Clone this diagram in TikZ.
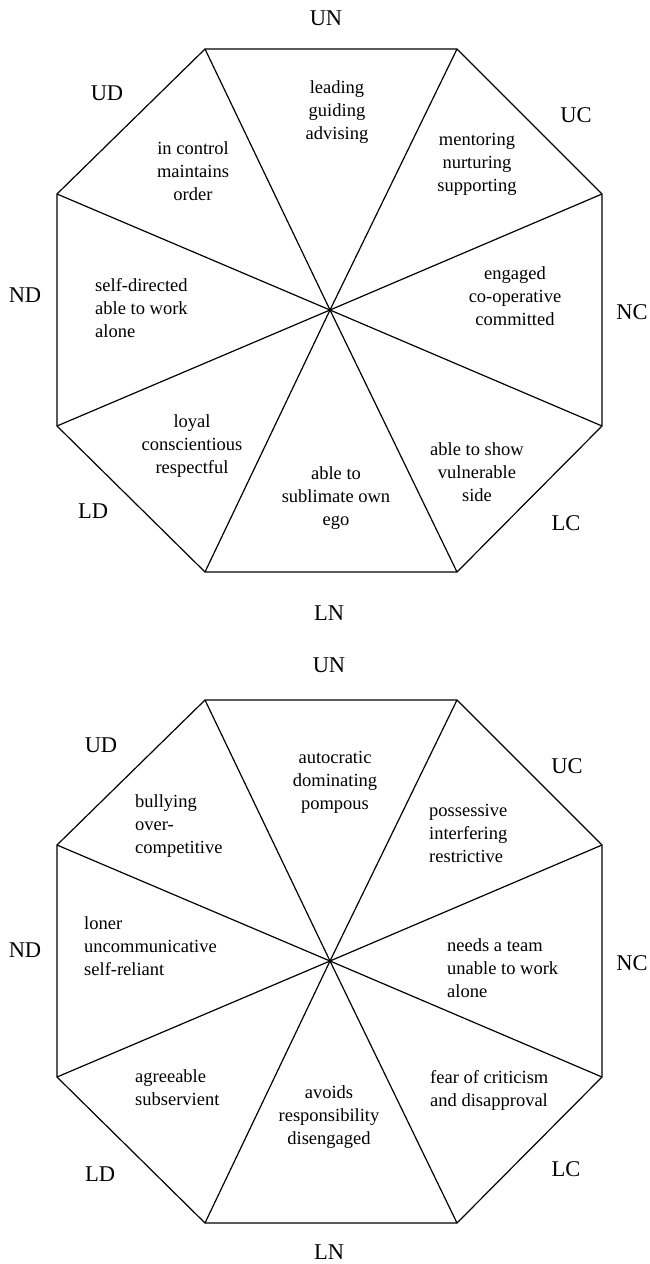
\documentclass[tikz,border=0pt]{standalone}
\usepackage{fontspec}
\setmainfont{Liberation Serif}
\usepackage{tikz}

\begin{document}
\begin{tikzpicture}[
  x=1pt,y=-1pt,
  rim/.style={draw,line width=1.2pt,line join=miter},
  trait/.style={align=center,inner sep=0pt,font=\fontsize{18.5}{23}\selectfont},
  traitL/.style={trait,align=left,anchor=west},
  pole/.style={inner sep=0pt,font=\fontsize{22.5}{26}\selectfont}]
\useasboundingbox (0,0) rectangle (650,1264);
\foreach \o/\dy in {top/0,bot/651}{
  \coordinate (\o-c) at (330,310+\dy);
  \foreach \i/\x/\y in {1/205/49,2/457/49,3/602/194,4/602/426,
                        5/457/572,6/205/572,7/57/426,8/57/194}
    \coordinate (\o-\i) at (\x,\y+\dy);
  \draw[rim] (\o-1) -- (\o-2) -- (\o-3) -- (\o-4) -- (\o-5)
    -- (\o-6) -- (\o-7) -- (\o-8) -- cycle;
  \foreach \i in {1,...,8}
    \draw[rim] (\o-c) -- (\o-\i);
}
% upper octagon
\node[pole] (top-UN) at (326,18) {UN};
\node[pole] (top-UD) at (107,93) {UD};
\node[pole] (top-UC) at (576,115) {UC};
\node[pole] (top-ND) at (25,295) {ND};
\node[pole] (top-NC) at (632,312) {NC};
\node[pole] (top-LD) at (93,511) {LD};
\node[pole] (top-LC) at (566,523) {LC};
\node[pole] (top-LN) at (329,613) {LN};
\node[trait] (lead) at (337,112) {leading\\guiding\\advising};
\node[trait] (control) at (193,171) {in control\\maintains\\order};
\node[trait] (mentor) at (477,164) {mentoring\\nurturing\\supporting};
\node[trait] (engage) at (515,296) {engaged\\co-operative\\committed};
\node[traitL] (selfdir) at (95,308) {self-directed\\able to work\\alone};
\node[trait] (loyal) at (192,446) {loyal\\conscientious\\respectful};
\node[trait] (sublime) at (336,498) {able to\\sublimate own\\ego};
\node[trait] (vulner) at (477,472) {able to show\\vulnerable\\side};
% lower octagon
\node[pole] (bot-UN) at (329,665) {UN};
\node[pole] (bot-UD) at (101,745) {UD};
\node[pole] (bot-UC) at (567,766) {UC};
\node[pole] (bot-ND) at (25,950) {ND};
\node[pole] (bot-NC) at (632,963) {NC};
\node[pole] (bot-LD) at (100,1174) {LD};
\node[pole] (bot-LC) at (566,1169) {LC};
\node[pole] (bot-LN) at (329,1252) {LN};
\node[trait] (autocrat) at (335,782) {autocratic\\dominating\\pompous};
\node[traitL] (bully) at (135,826) {bullying\\over-\\competitive};
\node[traitL] (possess) at (429,833) {possessive\\interfering\\restrictive};
\node[traitL] (loner) at (84,946) {loner\\uncommunicative\\self-reliant};
\node[traitL] (team) at (447,968) {needs a team\\unable to work\\alone};
\node[traitL] (agree) at (135,1088) {agreeable\\subservient};
\node[trait] (avoid) at (329,1117) {avoids\\responsibility\\disengaged};
\node[traitL] (fear) at (430,1090) {fear of criticism\\and disapproval};
\end{tikzpicture}
\end{document}
